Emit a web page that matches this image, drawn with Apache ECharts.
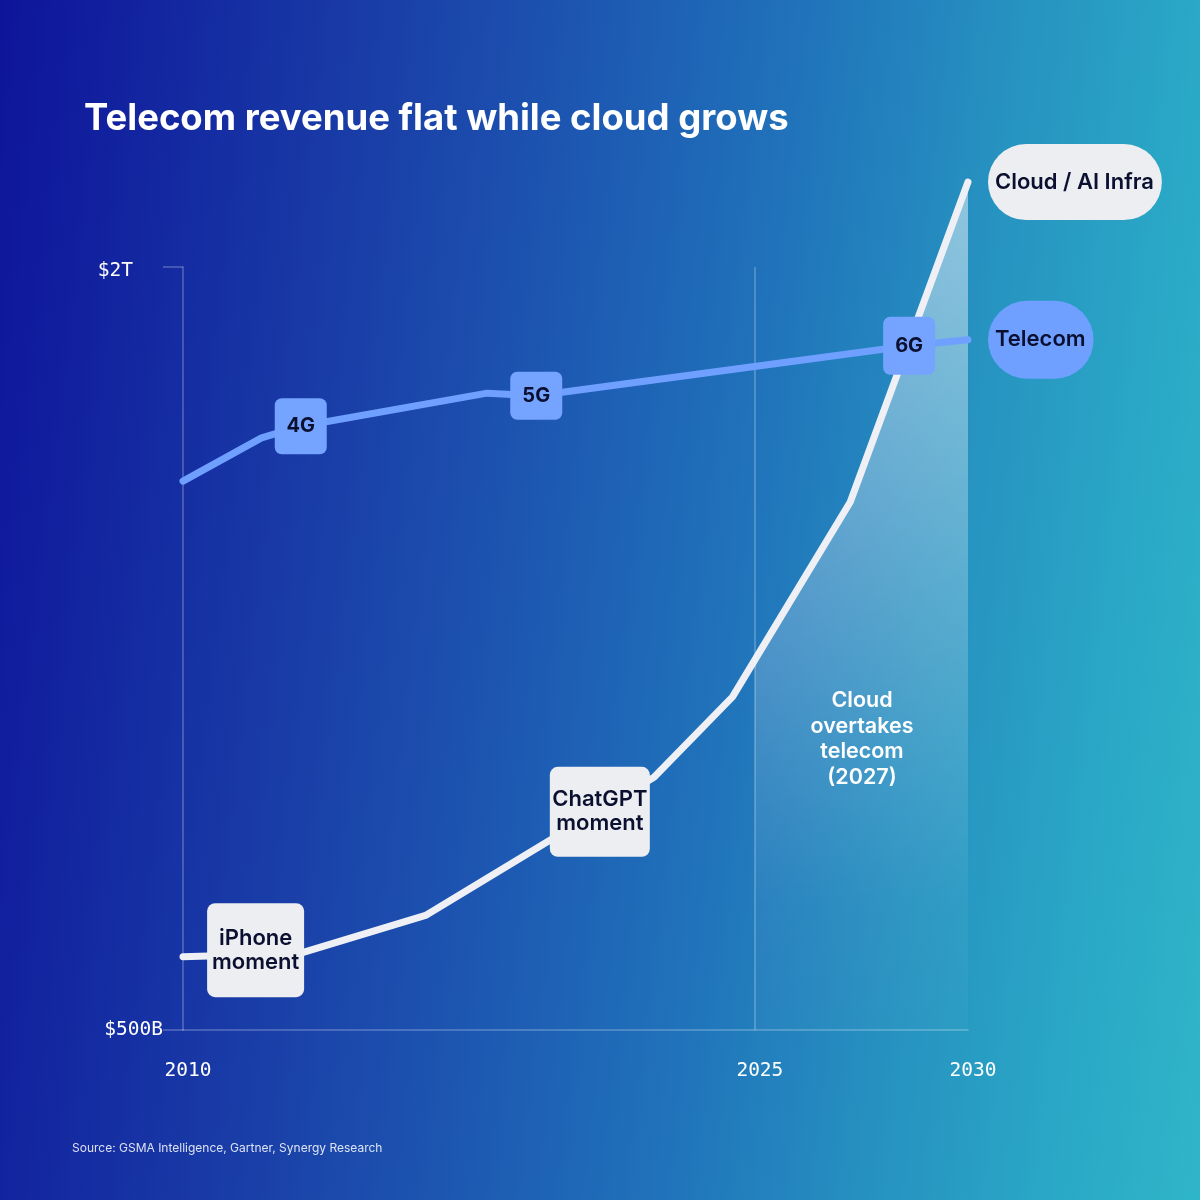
<!DOCTYPE html>
<html>
<head>
<meta charset="utf-8">
<script src="https://cdn.jsdelivr.net/npm/echarts@6/dist/echarts.min.js"></script>
<style>
  html, body { margin: 0; padding: 0; }
  #chart { width: 1200px; height: 1200px; }
</style>
</head>
<body>
<div id="chart"></div>
<script>
// ---- data ----
const cloudYears    = [2010, 2013, 2016.2, 2022, 2024, 2027, 2030];
const cloudValues   = [644, 651, 726, 997, 1155, 1538, 2167];   // $B
const telecomYears  = [2010, 2012, 2013, 2017.75, 2019, 2028.5, 2030];
const telecomValues = [1579, 1664, 1687, 1752, 1747, 1845, 1857]; // $B
const telecomStages = ['', '', '4G', '', '5G', '6G', ''];
const shadeYears    = [2024.57, 2027, 2030];
const shadeValues   = [1227, 1538, 2167];
const momentLabels  = ['iPhone\nmoment', 'ChatGPT\nmoment'];
const momentYears   = [2011.85, 2020.62];
const momentValues  = [657, 929];
const noteLabel     = 'Cloud\novertakes\ntelecom\n(2027)';
const noteYear      = 2027.3;
const noteValue     = 1072;
const xTickValues   = [2010, 2024.57, 2030];
const xTickLabels   = ['2010', '2025', '2030'];
const yTickValues   = [500, 2000];
const yTickLabels   = ['$500B', '$2T'];
const seriesNames   = ['Cloud / AI Infra', 'Telecom'];
const titleText     = 'Telecom revenue flat while cloud grows';
const sourceText    = 'Source: GSMA Intelligence, Gartner, Synergy Research';

// ---- styling ----
const SANS = 'Inter, "Noto Sans", sans-serif';
const MONO = '"DejaVu Sans Mono", "Liberation Mono", monospace';
const DARK = '#0b1030';
const LIGHT = '#eceef2';
const BLUE = '#6fa0ff';
const BOX_BLUE = '#74a4ff';
const AXIS = 'rgba(255,255,255,0.28)';
const stagePad = { '4G': [18, 0], '5G': [14, 0], '6G': [19, 0] };
const momentBox = [
  { width: 91, padding: [23, 3] },
  { width: 96, padding: [21, 2] }
];

const zip = (xs, ys) => xs.map((x, i) => [x, ys[i]]);

const telecomData = telecomYears.map((y, i) => {
  const stage = telecomStages[i];
  const item = { value: [y, telecomValues[i]] };
  if (stage) {
    item.label = {
      show: true,
      position: 'inside',
      formatter: stage,
      backgroundColor: BOX_BLUE,
      borderRadius: 7,
      width: 52,
      align: 'center',
      padding: stagePad[stage],
      color: DARK,
      fontFamily: SANS,
      fontWeight: 700,
      fontSize: 20,
      lineHeight: 20
    };
  }
  return item;
});

const momentData = momentLabels.map((m, i) => ({
  coord: [momentYears[i], momentValues[i]],
  label: {
    show: true,
    position: 'inside',
    formatter: m,
    backgroundColor: LIGHT,
    borderRadius: 8,
    width: momentBox[i].width,
    align: 'center',
    padding: momentBox[i].padding,
    color: DARK,
    fontFamily: SANS,
    fontWeight: 600,
    fontSize: 22,
    lineHeight: 24
  }
}));

const chart = echarts.init(document.getElementById('chart'), null, { renderer: 'canvas' });

chart.setOption({
  animation: false,
  backgroundColor: {
    type: 'linear', x: 0, y: 0, x2: 1320, y2: 158, global: true,
    colorStops: [
      { offset: 0, color: '#0e149a' },
      { offset: 0.3, color: '#1a40a8' },
      { offset: 0.448, color: '#1d58b2' },
      { offset: 0.597, color: '#2072ba' },
      { offset: 0.747, color: '#2690c0' },
      { offset: 0.896, color: '#2aa8c6' },
      { offset: 1, color: '#2fb5c9' }
    ]
  },
  title: [
    {
      text: titleText,
      left: 79,
      top: 96,
      textStyle: { color: '#ffffff', fontFamily: SANS, fontWeight: 700, fontSize: 36.5 }
    },
    {
      text: sourceText,
      left: 67,
      top: 1137,
      textStyle: { color: 'rgba(255,255,255,0.85)', fontFamily: SANS, fontWeight: 400, fontSize: 12 }
    }
  ],
  grid: { left: 183, right: 232, top: 267, bottom: 170, containLabel: false },
  xAxis: {
    type: 'value',
    min: 2010,
    max: 2030,
    splitLine: { show: false },
    axisLine: { show: true, lineStyle: { color: AXIS, width: 1.5 } },
    axisTick: { show: false },
    axisLabel: {
      customValues: xTickValues,
      formatter: (v) => {
        const i = xTickValues.findIndex(t => Math.abs(t - v) < 1e-6);
        return i >= 0 ? xTickLabels[i] : '';
      },
      margin: 31,
      padding: [0, 0, 0, 10],
      color: '#ffffff',
      fontFamily: MONO,
      fontSize: 19.5
    }
  },
  yAxis: {
    type: 'value',
    min: 500,
    max: 2000,
    interval: 1500,
    splitLine: { show: false },
    axisLine: { show: true, lineStyle: { color: AXIS, width: 1.5 } },
    axisTick: { show: true, length: 20, lineStyle: { color: AXIS, width: 1.5 } },
    axisLabel: {
      formatter: (v) => {
        const i = yTickValues.indexOf(v);
        if (i < 0) return '';
        return v === 2000 ? '{top|' + yTickLabels[i] + '}' : '{bot|' + yTickLabels[i] + '}';
      },
      margin: 20,
      color: '#ffffff',
      fontFamily: MONO,
      fontSize: 19.5,
      rich: {
        top: { color: '#ffffff', fontFamily: MONO, fontSize: 19.5, padding: [7, 30, 0, 0] },
        bot: { color: '#ffffff', fontFamily: MONO, fontSize: 19.5, padding: [0, 0, 0, 0] }
      }
    }
  },
  series: [
    {
      name: 'shade',
      type: 'line',
      data: zip(shadeYears, shadeValues),
      clip: false,
      z: 1,
      symbol: 'none',
      lineStyle: { width: 0, opacity: 0 },
      areaStyle: {
        origin: 'start',
        color: new echarts.graphic.LinearGradient(0, 0, 0, 1, [
          { offset: 0, color: 'rgba(255,255,255,0.7)' },
          { offset: 0.45, color: 'rgba(255,255,255,0.36)' },
          { offset: 0.85, color: 'rgba(255,255,255,0.06)' },
          { offset: 1, color: 'rgba(255,255,255,0.03)' }
        ])
      },
      markLine: {
        silent: true,
        symbol: 'none',
        label: { show: false },
        lineStyle: { color: AXIS, width: 1.5, type: 'solid' },
        data: [{ xAxis: xTickValues[1] }]
      },
      markPoint: {
        silent: true,
        symbol: 'rect',
        symbolSize: 1,
        itemStyle: { color: 'rgba(0,0,0,0)' },
        data: [{
          coord: [noteYear, noteValue],
          label: {
            show: true,
            position: 'inside',
            formatter: noteLabel,
            color: '#ffffff',
            fontFamily: SANS,
            fontWeight: 600,
            fontSize: 21.5,
            lineHeight: 25.5,
            align: 'center'
          }
        }]
      }
    },
    {
      name: seriesNames[0],
      type: 'line',
      data: zip(cloudYears, cloudValues),
      clip: false,
      z: 3,
      symbol: 'none',
      lineStyle: { color: '#eef0f5', width: 7, cap: 'round', join: 'round' },
      itemStyle: { color: '#eef0f5' },
      endLabel: {
        show: true,
        formatter: seriesNames[0],
        distance: 20,
        backgroundColor: LIGHT,
        borderRadius: 40,
        padding: [27, 8, 27, 7],
        color: DARK,
        fontFamily: SANS,
        fontWeight: 600,
        fontSize: 22,
        lineHeight: 22
      },
      markPoint: {
        silent: true,
        symbol: 'rect',
        symbolSize: 1,
        itemStyle: { color: 'rgba(0,0,0,0)' },
        z: 10,
        data: momentData
      }
    },
    {
      name: seriesNames[1],
      type: 'line',
      data: telecomData,
      clip: false,
      z: 5,
      symbol: 'circle',
      symbolSize: 0.1,
      showSymbol: true,
      showAllSymbol: true,
      lineStyle: { color: BLUE, width: 7, cap: 'round', join: 'round' },
      itemStyle: { color: BLUE },
      endLabel: {
        show: true,
        formatter: seriesNames[1],
        distance: 20,
        backgroundColor: BLUE,
        borderRadius: 40,
        padding: [28, 8, 28, 7],
        color: DARK,
        fontFamily: SANS,
        fontWeight: 600,
        fontSize: 22,
        lineHeight: 22
      }
    }
  ]
});
</script>
</body>
</html>
